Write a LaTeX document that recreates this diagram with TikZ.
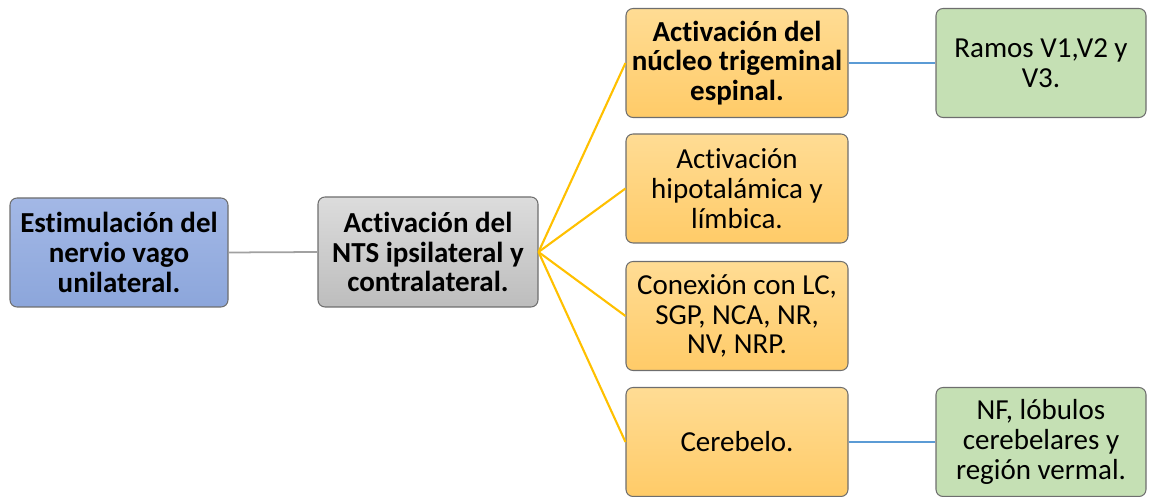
\documentclass[tikz,border=0pt]{standalone}
\usepackage{fontspec}
\setmainfont{Carlito}[Ligatures=NoCommon]
\usetikzlibrary{positioning}

\definecolor{bluetop}{HTML}{A3B8E6}
\definecolor{bluebot}{HTML}{8CA6DB}
\definecolor{greytop}{HTML}{DCDCDC}
\definecolor{greybot}{HTML}{BDBDBD}
\definecolor{orangetop}{HTML}{FFDC94}
\definecolor{orangebot}{HTML}{FFCB68}
\definecolor{greenfill}{HTML}{C5E0B4}
\definecolor{boxline}{HTML}{6E6E6E}
\definecolor{yellowline}{HTML}{FFC000}
\definecolor{blueline}{HTML}{5B9BD5}

\begin{document}
\begin{tikzpicture}[
    box/.style={draw=boxline, line width=0.6pt, rounded corners=4pt, align=center,
        inner sep=0pt, font=\fontsize{16.5}{17}\selectfont},
    mainbox/.style={box, minimum width=4.36cm, minimum height=2.18cm,
        top color=bluetop, bottom color=bluebot, font=\fontsize{16.5}{17}\selectfont\bfseries},
    ntsbox/.style={box, minimum width=4.40cm, minimum height=2.20cm,
        top color=greytop, bottom color=greybot, font=\fontsize{16.5}{17}\selectfont\bfseries},
    areabox/.style={box, minimum width=4.44cm, minimum height=2.18cm,
        top color=orangetop, bottom color=orangebot},
    detailbox/.style={box, minimum width=4.20cm, minimum height=2.18cm, fill=greenfill}
]
\useasboundingbox (0,0) rectangle (23,-9.94);

% Main boxes
\node[mainbox] (estim) at (2.38,-5.05) {Estimulación del\\nervio vago\\unilateral.};
\node[ntsbox] (nts) at (8.56,-5.04) {Activación del\\NTS ipsilateral y\\contralateral.};

% Areas
\node[areabox, font=\fontsize{16.5}{17}\selectfont\bfseries] (trig) at (14.74,-1.26) {Activación del\\núcleo trigeminal\\espinal.};
\node[areabox] (hipo) at (14.74,-3.77) {Activación\\hipotalámica y\\límbica.};
\node[areabox] (conex) at (14.74,-6.32) {Conexión con LC,\\SGP, NCA, NR,\\NV, NRP.};
\node[areabox] (cereb) at (14.74,-8.84) {Cerebelo.};

% Details
\node[detailbox] (ramos) at (20.82,-1.26) {Ramos V1,V2 y\\V3.};
\node[detailbox] (lobulos) at (20.82,-8.84) {NF, lóbulos\\cerebelares y\\región vermal.};

% Connectors
\draw[boxline!65, line width=1pt] (estim.east) -- (nts.west);
\foreach \n in {trig, hipo, conex, cereb}
    \draw[yellowline, line width=1.2pt] (nts.east) -- (\n.west);
\draw[blueline, line width=1.1pt] (trig.east) -- (ramos.west);
\draw[blueline, line width=1.1pt] (cereb.east) -- (lobulos.west);
\end{tikzpicture}
\end{document}
